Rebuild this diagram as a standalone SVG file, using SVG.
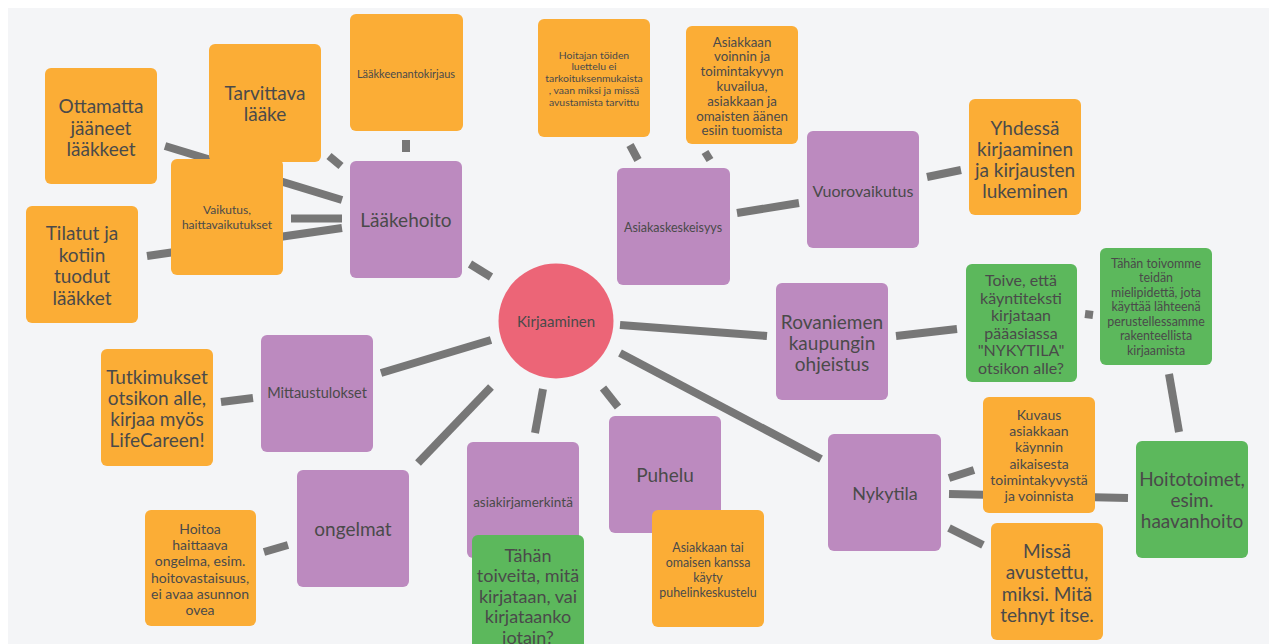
<svg xmlns="http://www.w3.org/2000/svg" width="1271" height="644" viewBox="0 0 1271 644">
<style>
.o{fill:#fbad36}.p{fill:#bc8abf}.g{fill:#5cb85c}
text{font-family:Lato,"Noto Sans","Liberation Sans",sans-serif;fill:#4a4a4a;text-anchor:middle}
.c line{stroke:#777;stroke-width:8;stroke-linecap:butt}
</style>
<rect width="1271" height="644" fill="#fff"/>
<rect x="8" y="8" width="1261" height="636" fill="#f4f5f7"/>
<g class="c" id="connectors">
<line x1="165" y1="146" x2="342" y2="200"/>
<line x1="329" y1="156" x2="341" y2="166"/>
<line x1="406" y1="140" x2="406" y2="152"/>
<line x1="291" y1="218.5" x2="342" y2="218.5"/>
<line x1="147" y1="256" x2="342" y2="228"/>
<line x1="470" y1="264" x2="491" y2="277"/>
<line x1="381" y1="373" x2="491" y2="340"/>
<line x1="418" y1="463" x2="491" y2="387"/>
<line x1="535" y1="433" x2="543" y2="389"/>
<line x1="603" y1="388" x2="618" y2="407"/>
<line x1="620" y1="325" x2="767" y2="336"/>
<line x1="620" y1="353" x2="821" y2="459"/>
<line x1="630" y1="145" x2="638" y2="160"/>
<line x1="705" y1="152" x2="710" y2="160"/>
<line x1="737" y1="213" x2="799" y2="203"/>
<line x1="927" y1="177" x2="961" y2="170"/>
<line x1="896" y1="336" x2="957" y2="329"/>
<line x1="1085" y1="314" x2="1093" y2="315"/>
<line x1="1169" y1="374" x2="1179" y2="432"/>
<line x1="949" y1="478" x2="974" y2="470"/>
<line x1="949" y1="494" x2="1128" y2="498"/>
<line x1="949" y1="528" x2="983" y2="545"/>
<line x1="221" y1="402" x2="253" y2="398"/>
<line x1="264" y1="552" x2="288" y2="545"/>
</g>
<g id="n-ottamatta"><rect class="o" x="45" y="68" width="112" height="116" rx="6"/>
<text font-size="19"><tspan x="101" y="113">Ottamatta</tspan><tspan x="101" y="134.5">jääneet</tspan><tspan x="101" y="156">lääkkeet</tspan></text></g>
<g id="n-tarvittava"><rect class="o" x="209" y="44" width="112" height="118" rx="6"/>
<text font-size="19"><tspan x="265" y="100">Tarvittava</tspan><tspan x="265" y="121">lääke</tspan></text></g>
<g id="n-laakkeenanto"><rect class="o" x="350" y="14" width="113" height="117" rx="6"/>
<text font-size="11"><tspan x="406" y="78">Lääkkeenantokirjaus</tspan></text></g>
<g id="n-vaikutus"><rect class="o" x="171" y="159" width="112" height="116" rx="6"/>
<text font-size="12"><tspan x="227" y="214.3">Vaikutus,</tspan><tspan x="227" y="229.3">haittavaikutukset</tspan></text></g>
<g id="n-tilatut"><rect class="o" x="26" y="206" width="112" height="117" rx="6"/>
<text font-size="19"><tspan x="82" y="240">Tilatut ja</tspan><tspan x="82" y="261.7">kotiin</tspan><tspan x="82" y="283.4">tuodut</tspan><tspan x="82" y="305">lääkket</tspan></text></g>
<g id="n-laakehoito"><rect class="p" x="350" y="161" width="112" height="117" rx="6"/>
<text font-size="19"><tspan x="406" y="227">Lääkehoito</tspan></text></g>
<g id="n-kirjaaminen"><circle cx="556" cy="321" r="57.5" fill="#ec6577"/>
<text font-size="15"><tspan x="556" y="327.4">Kirjaaminen</tspan></text></g>
<g id="n-hoitajan"><rect class="o" x="538" y="19" width="112" height="118" rx="6"/>
<text font-size="10.4"><tspan x="594" y="58.5">Hoitajan töiden</tspan><tspan x="594" y="70.3">luettelu ei</tspan><tspan x="594" y="82.1">tarkoituksenmukaista</tspan><tspan x="594" y="93.9">, vaan miksi ja missä</tspan><tspan x="594" y="105.7">avustamista tarvittu</tspan></text></g>
<g id="n-asiakkaan-voinnin"><rect class="o" x="686" y="26" width="112" height="118" rx="6"/>
<text font-size="13.3"><tspan x="742" y="46.5">Asiakkaan</tspan><tspan x="742" y="61.3">voinnin ja</tspan><tspan x="742" y="76.1">toimintakyvyn</tspan><tspan x="742" y="90.9">kuvailua,</tspan><tspan x="742" y="105.7">asiakkaan ja</tspan><tspan x="742" y="120.5">omaisten äänen</tspan><tspan x="742" y="135.3">esiin tuomista</tspan></text></g>
<g id="n-asiakaskeskeisyys"><rect class="p" x="617" y="168" width="113" height="117" rx="6"/>
<text font-size="12.5"><tspan x="673" y="231.5">Asiakaskeskeisyys</tspan></text></g>
<g id="n-vuorovaikutus"><rect class="p" x="807" y="131" width="112" height="117" rx="6"/>
<text font-size="16"><tspan x="863" y="196.8">Vuorovaikutus</tspan></text></g>
<g id="n-yhdessa"><rect class="o" x="969" y="99" width="112" height="116" rx="6"/>
<text font-size="19"><tspan x="1025" y="135">Yhdessä</tspan><tspan x="1025" y="156">kirjaaminen</tspan><tspan x="1025" y="177">ja kirjausten</tspan><tspan x="1025" y="198">lukeminen</tspan></text></g>
<g id="n-rovaniemen"><rect class="p" x="776" y="283" width="112" height="117" rx="6"/>
<text font-size="19"><tspan x="832" y="329">Rovaniemen</tspan><tspan x="832" y="350">kaupungin</tspan><tspan x="832" y="371">ohjeistus</tspan></text></g>
<g id="n-toive"><rect class="g" x="966" y="264" width="111" height="118" rx="6"/>
<text font-size="16"><tspan x="1021" y="286">Toive, että</tspan><tspan x="1021" y="303.5">käyntiteksti</tspan><tspan x="1021" y="321">kirjataan</tspan><tspan x="1021" y="338.5">pääasiassa</tspan><tspan x="1021" y="356">"NYKYTILA"</tspan><tspan x="1021" y="373.5">otsikon alle?</tspan></text></g>
<g id="n-tahan-toivomme"><rect class="g" x="1100" y="248" width="112" height="117" rx="6"/>
<text font-size="12.4"><tspan x="1156" y="267.5">Tähän toivomme</tspan><tspan x="1156" y="282">teidän</tspan><tspan x="1156" y="296.5">mielipidettä, jota</tspan><tspan x="1156" y="311">käyttää lähteenä</tspan><tspan x="1156" y="325.5">perustellessamme</tspan><tspan x="1156" y="340">rakenteellista</tspan><tspan x="1156" y="354.5">kirjaamista</tspan></text></g>
<g id="n-hoitotoimet"><rect class="g" x="1136" y="441" width="112" height="117" rx="6"/>
<text font-size="19"><tspan x="1192" y="486">Hoitotoimet,</tspan><tspan x="1192" y="507">esim.</tspan><tspan x="1192" y="528">haavanhoito</tspan></text></g>
<g id="n-nykytila"><rect class="p" x="828" y="434" width="113" height="117" rx="6"/>
<text font-size="18"><tspan x="885" y="499.5">Nykytila</tspan></text></g>
<g id="n-kuvaus"><rect class="o" x="983" y="397" width="112" height="116" rx="6"/>
<text font-size="14"><tspan x="1039" y="420">Kuvaus</tspan><tspan x="1039" y="436.2">asiakkaan</tspan><tspan x="1039" y="452.4">käynnin</tspan><tspan x="1039" y="468.6">aikaisesta</tspan><tspan x="1039" y="484.8">toimintakyvystä</tspan><tspan x="1039" y="501">ja voinnista</tspan></text></g>
<g id="n-missa"><rect class="o" x="991" y="523" width="112" height="117" rx="6"/>
<text font-size="19"><tspan x="1047" y="558">Missä</tspan><tspan x="1047" y="579.3">avustettu,</tspan><tspan x="1047" y="600.6">miksi. Mitä</tspan><tspan x="1047" y="622">tehnyt itse.</tspan></text></g>
<g id="n-mittaus"><rect class="p" x="261" y="335" width="112" height="117" rx="6"/>
<text font-size="14.5"><tspan x="317" y="398.2">Mittaustulokset</tspan></text></g>
<g id="n-tutkimukset"><rect class="o" x="101" y="349" width="112" height="117" rx="6"/>
<text font-size="19"><tspan x="157" y="384">Tutkimukset</tspan><tspan x="157" y="405">otsikon alle,</tspan><tspan x="157" y="426">kirjaa myös</tspan><tspan x="157" y="447">LifeCareen!</tspan></text></g>
<g id="n-ongelmat"><rect class="p" x="297" y="470" width="112" height="117" rx="6"/>
<text font-size="19"><tspan x="353" y="536">ongelmat</tspan></text></g>
<g id="n-hoitoa"><rect class="o" x="145" y="510" width="111" height="116" rx="6"/>
<text font-size="14"><tspan x="200" y="534">Hoitoa</tspan><tspan x="200" y="550.2">haittaava</tspan><tspan x="200" y="566.4">ongelma, esim.</tspan><tspan x="200" y="582.6">hoitovastaisuus,</tspan><tspan x="200" y="598.8">ei avaa asunnon</tspan><tspan x="200" y="615">ovea</tspan></text></g>
<g id="n-asiakirja"><rect class="p" x="467" y="442" width="112" height="116" rx="6"/>
<text font-size="13.5"><tspan x="523" y="506.9">asiakirjamerkintä</tspan></text></g>
<g id="n-tahan-toiveita"><rect class="g" x="472" y="535" width="112" height="117" rx="6"/>
<text font-size="18"><tspan x="528" y="561.5">Tähän</tspan><tspan x="528" y="582">toiveita, mitä</tspan><tspan x="528" y="602.5">kirjataan, vai</tspan><tspan x="528" y="623">kirjataanko</tspan><tspan x="528" y="643.5">jotain?</tspan></text></g>
<g id="n-puhelu"><rect class="p" x="609" y="416" width="112" height="117" rx="6"/>
<text font-size="19"><tspan x="665" y="482">Puhelu</tspan></text></g>
<g id="n-asiakkaan-tai"><rect class="o" x="652" y="510" width="112" height="117" rx="6"/>
<text font-size="12.4"><tspan x="708" y="551.5">Asiakkaan tai</tspan><tspan x="708" y="566.5">omaisen kanssa</tspan><tspan x="708" y="581.5">käyty</tspan><tspan x="708" y="596.5">puhelinkeskustelu</tspan></text></g>
</svg>
